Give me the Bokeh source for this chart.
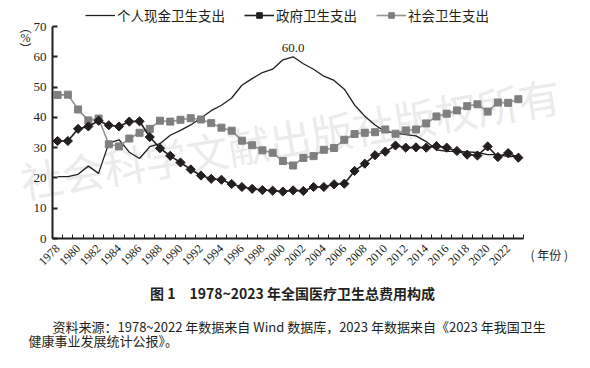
import math
from bokeh.plotting import figure
from bokeh.models import (Range1d, FixedTicker, Label, Legend, LegendItem,
                          ColumnDataSource)
from bokeh.embed import file_html
from bokeh.resources import INLINE

years = list(range(1978, 2024))
out_of_pocket = [20.4, 20.4, 21.2, 23.9, 21.5, 31.5, 32.6, 28.5, 26.4, 30.3,
                 31.3, 34.1, 35.7, 37.5, 39.8, 42.2, 44.0, 46.4, 50.6, 52.8,
                 54.8, 55.9, 59.0, 60.0, 57.7, 55.9, 53.6, 52.2, 49.3, 44.1,
                 40.4, 37.5, 35.3, 34.8, 34.3, 33.9, 32.0, 29.3, 28.8, 28.8,
                 28.6, 28.4, 27.7, 27.7, 27.0, 27.3]
government = [32.2, 32.2, 36.2, 37.0, 38.9, 37.4, 37.0, 38.6, 38.7, 33.5,
              29.8, 27.3, 25.1, 22.8, 20.8, 19.7, 19.4, 18.0, 17.0, 16.4,
              16.0, 15.8, 15.5, 15.9, 15.7, 17.0, 17.0, 17.9, 18.1, 22.3,
              24.7, 27.5, 28.7, 30.7, 30.0, 30.1, 30.0, 30.5, 30.0, 28.9,
              27.7, 27.4, 30.4, 26.9, 28.2, 26.7]
social = [47.4, 47.5, 42.6, 39.0, 39.6, 31.1, 30.4, 33.0, 34.9, 36.2,
          38.9, 38.6, 39.2, 39.7, 39.3, 38.1, 36.6, 35.6, 32.3, 30.8,
          29.1, 28.3, 25.6, 24.1, 26.6, 27.2, 29.3, 29.9, 32.6, 34.5,
          34.9, 35.1, 36.0, 34.6, 35.7, 36.0, 38.0, 40.3, 41.2, 42.3,
          43.7, 44.3, 41.9, 44.9, 44.8, 46.0]
series_names = ["个人现金卫生支出", "政府卫生支出", "社会卫生支出"]
y_ticks = [0, 10, 20, 30, 40, 50, 60, 70]
x_label_years = [y for y in years if y % 2 == 0]
peak_label = "60.0"
x_unit_label = "( 年份 )"
title_text = "图 1　1978~2023 年全国医疗卫生总费用构成"
source_1 = "资料来源：1978~2022 年数据来自 Wind 数据库，2023 年数据来自《2023 年我国卫生"
source_2 = "健康事业发展统计公报》。"
watermark = "社会科学文献出版社版权所有"

src = ColumnDataSource(dict(year=years, oop=out_of_pocket, gov=government, soc=social))

SERIF = "Liberation Serif"
CJK = "Noto Sans CJK SC"
INK = "#231f20"

W, H = 574, 350
# plot area inside the canvas (pixels): left 52, right 523, top 26, bottom 238
X0, X1 = years[0] - 0.5, years[-1] + 0.5
Y0, Y1 = y_ticks[0], y_ticks[-1]
px_x = (523 - 52) / (X1 - X0)
px_y = (238 - 26) / (Y1 - Y0)

p = figure(width=W, height=H, output_backend="svg", toolbar_location=None,
           x_range=Range1d(X0 - 52 / px_x, X1 + (W - 523) / px_x),
           y_range=Range1d(Y0 - (H - 238) / px_y, Y1 + 26 / px_y),
           min_border_left=0, min_border_right=0, min_border_top=0,
           min_border_bottom=0)
p.outline_line_color = None
p.xgrid.visible = False
p.ygrid.visible = False

# watermark
p.add_layout(Label(x=20, y=170, x_units="screen", y_units="screen", text=watermark,
                   angle=0.16, text_font=CJK, text_font_size="42px",
                   text_color="#e2e2e2", text_alpha=0.7, text_align="left",
                   text_baseline="middle", level="underlay"))

r_oop = p.line("year", "oop", source=src, line_color=INK, line_width=1.3)
r_soc_l = p.line("year", "soc", source=src, line_color="#939393", line_width=1.6)
r_soc_m = p.scatter("year", "soc", source=src, marker="square", size=7,
                    fill_color="#7f7f7f", line_color="#7f7f7f")
r_gov_l = p.line("year", "gov", source=src, line_color=INK, line_width=1.6)
r_gov_m = p.scatter("year", "gov", source=src, marker="square", size=6.5, angle=math.pi / 4,
                    fill_color=INK, line_color=INK)

# axes
xa = p.xaxis[0]
xa.fixed_location = Y0
xa.bounds = (X0, X1)
xa.ticker = FixedTicker(ticks=x_label_years,
                        minor_ticks=[y - 0.5 for y in years] + [years[-1] + 0.5])
xa.major_tick_line_color = None
xa.minor_tick_in = 4
xa.minor_tick_out = 0
xa.minor_tick_line_color = INK
xa.minor_tick_line_width = 1
xa.axis_line_width = 2
xa.axis_line_color = INK
xa.major_label_orientation = math.pi / 4
xa.major_label_text_font = SERIF
xa.major_label_text_font_size = "12px"
xa.major_label_text_color = INK
xa.major_label_standoff = 2

ya = p.yaxis[0]
ya.fixed_location = X0
ya.bounds = (Y0, Y1)
ya.ticker = FixedTicker(ticks=y_ticks)
ya.minor_tick_line_color = None
ya.major_tick_in = 5
ya.major_tick_out = 0
ya.major_tick_line_width = 2
ya.major_tick_line_color = INK
ya.axis_line_width = 2
ya.axis_line_color = INK
ya.major_label_text_font = SERIF
ya.major_label_text_font_size = "13px"
ya.major_label_text_color = INK
ya.major_label_standoff = 6

# legend
legend = Legend(items=[LegendItem(label=series_names[0], renderers=[r_oop]),
                       LegendItem(label=series_names[1], renderers=[r_gov_l, r_gov_m]),
                       LegendItem(label=series_names[2], renderers=[r_soc_l, r_soc_m])],
                orientation="horizontal", location=(85, 325),
                border_line_color=None, background_fill_alpha=0,
                padding=0, margin=0, spacing=19, label_standoff=2,
                glyph_width=30, glyph_height=14, label_height=14,
                label_text_font=CJK, label_text_font_size="13.5px",
                label_text_color=INK)
p.add_layout(legend, "center")

# annotations
p.add_layout(Label(x=years[out_of_pocket.index(max(out_of_pocket))], y=max(out_of_pocket),
                   text=peak_label, y_offset=5, text_align="center",
                   text_baseline="bottom", text_font=SERIF, text_font_size="13px",
                   text_color=INK))
for t, yy in (("︵", 324), ("%", 313), ("︶", 302)):
    p.add_layout(Label(x=25, y=yy, x_units="screen", y_units="screen", text=t,
                       text_align="center", text_baseline="middle",
                       text_font=SERIF if t == "%" else CJK, text_font_size="12px",
                       text_color=INK))
p.add_layout(Label(x=530, y=96, x_units="screen", y_units="screen", text=x_unit_label,
                   text_align="left", text_baseline="middle", text_font=CJK,
                   text_font_size="12px", text_color=INK))
p.add_layout(Label(x=292, y=58, x_units="screen", y_units="screen", text=title_text,
                   text_align="center", text_baseline="middle", text_font=CJK,
                   text_font_size="14px", text_font_style="bold", text_color=INK))
p.add_layout(Label(x=52, y=24, x_units="screen", y_units="screen", text=source_1,
                   text_align="left", text_baseline="middle", text_font=CJK,
                   text_font_size="13px", text_color=INK))
p.add_layout(Label(x=28, y=10, x_units="screen", y_units="screen", text=source_2,
                   text_align="left", text_baseline="middle", text_font=CJK,
                   text_font_size="13px", text_color=INK))

open("out.html", "w").write(file_html(p, INLINE))
